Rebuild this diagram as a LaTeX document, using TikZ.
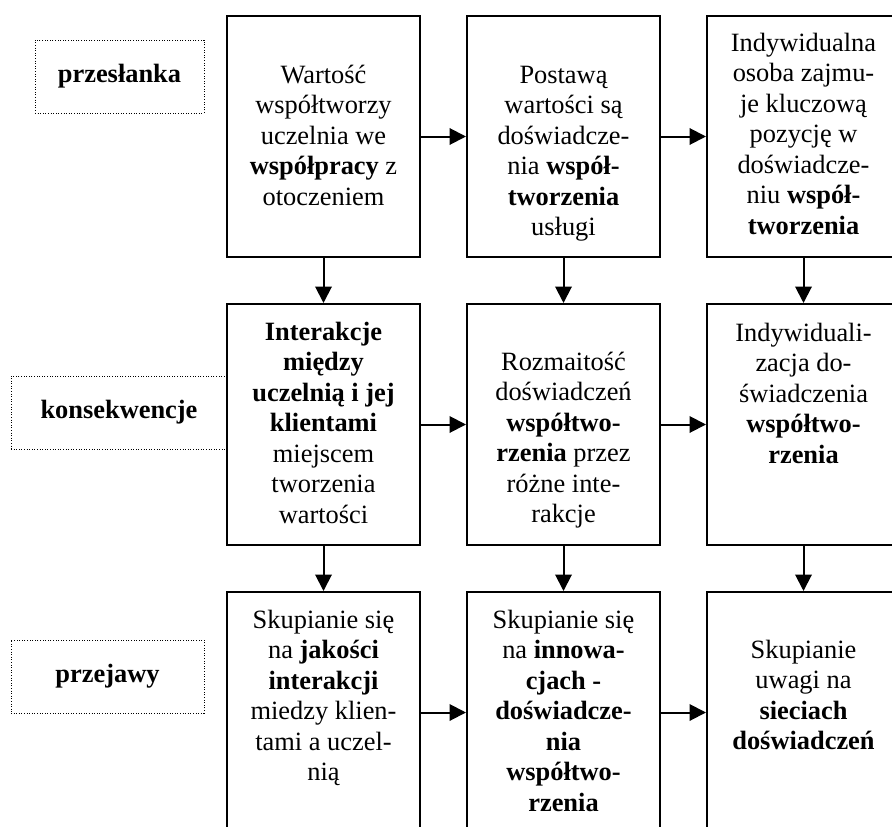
\documentclass[tikz,border=0pt]{standalone}
\usepackage{fontspec}
\setmainfont{Liberation Serif}
\usetikzlibrary{arrows.meta}
\tikzset{
  mainbox/.style={draw, line width=2pt, minimum width=193pt, minimum height=241pt, inner sep=0pt},
  boxtext/.style={anchor=north, align=center, inner sep=0pt, font=\fontsize{26.4}{30.5}\selectfont},
  labelbox/.style={draw, line width=1pt, dash pattern=on 1pt off 1.6pt, minimum height=73pt, inner sep=0pt, font=\fontsize{26.4}{30.5}\selectfont\bfseries},
  arr/.style={line width=2pt, -{Triangle[length=16.5pt,width=16.5pt]}}
}
\begin{document}
\begin{tikzpicture}[x=1pt,y=-1pt]
\useasboundingbox (0,0) rectangle (892,827);
\clip (0,0) rectangle (892,827);
\fill[white] (0,0) rectangle (892,827);

% boxes
\node[mainbox] (b11) at (323.5,136.5) {};
\node[mainbox] (b12) at (563.5,136.5) {};
\node[mainbox] (b13) at (803.5,136.5) {};
\node[mainbox] (b21) at (323.5,424.5) {};
\node[mainbox] (b22) at (563.5,424.5) {};
\node[mainbox] (b23) at (803.5,424.5) {};
\node[mainbox] (b31) at (323.5,712.5) {};
\node[mainbox] (b32) at (563.5,712.5) {};
\node[mainbox] (b33) at (803.5,712.5) {};

% texts
\node[boxtext] (t11) at (323.5,61.6) {\strut Wartość\\współtworzy\\uczelnia we\\\textbf{współpracy} z\\otoczeniem};
\node[boxtext] (t12) at (563.5,61.6) {\strut Postawą\\wartości są\\doświadcze-\\nia \textbf{współ-}\\\textbf{tworzenia}\\usługi};
\node[boxtext] (t13) at (803.5,29.6) {\strut Indywidualna\\osoba zajmu-\\je kluczową\\pozycję w\\doświadcze-\\niu \textbf{współ-}\\\textbf{tworzenia}};
\node[boxtext] (t21) at (323.5,318.6) {\strut\textbf{Interakcje}\\\textbf{między}\\\textbf{uczelnią i jej}\\\textbf{klientami}\\miejscem\\tworzenia\\wartości};
\node[boxtext] (t22) at (563.5,348.6) {\strut Rozmaitość\\doświadczeń\\\textbf{współtwo-}\\\textbf{rzenia} przez\\różne inte-\\rakcje};
\node[boxtext] (t23) at (803.5,319.6) {\strut Indywiduali-\\zacja do-\\świadczenia\\\textbf{współtwo-}\\\textbf{rzenia}};
\node[boxtext] (t31) at (323.5,606.6) {\strut Skupianie się\\na \textbf{jakości}\\\textbf{interakcji}\\miedzy klien-\\tami a uczel-\\nią};
\node[boxtext] (t32) at (563.5,606.6) {\strut Skupianie się\\na \textbf{innowa-}\\\textbf{cjach -}\\\textbf{doświadcze-}\\\textbf{nia}\\\textbf{współtwo-}\\\textbf{rzenia}};
\node[boxtext] (t33) at (803.5,636.6) {\strut Skupianie\\uwagi na\\\textbf{sieciach}\\\textbf{doświadczeń}};

% labels
\node[labelbox, minimum width=169pt] (l1) at (119.5,76.5) {przesłanka};
\node[labelbox, minimum width=216pt] (l2) at (119,412.5) {konsekwencje};
\node[labelbox, minimum width=193pt] (l3) at (107.5,676.5) {przejawy};

% horizontal arrows
\draw[arr] (b11.east) -- (b12.west);
\draw[arr] (b12.east) -- (b13.west);
\draw[arr] (b21.east) -- (b22.west);
\draw[arr] (b22.east) -- (b23.west);
\draw[arr] (b31.east) -- (b32.west);
\draw[arr] (b32.east) -- (b33.west);
% vertical arrows
\draw[arr] (b11.south) -- (b21.north);
\draw[arr] (b12.south) -- (b22.north);
\draw[arr] (b13.south) -- (b23.north);
\draw[arr] (b21.south) -- (b31.north);
\draw[arr] (b22.south) -- (b32.north);
\draw[arr] (b23.south) -- (b33.north);
\end{tikzpicture}
\end{document}
